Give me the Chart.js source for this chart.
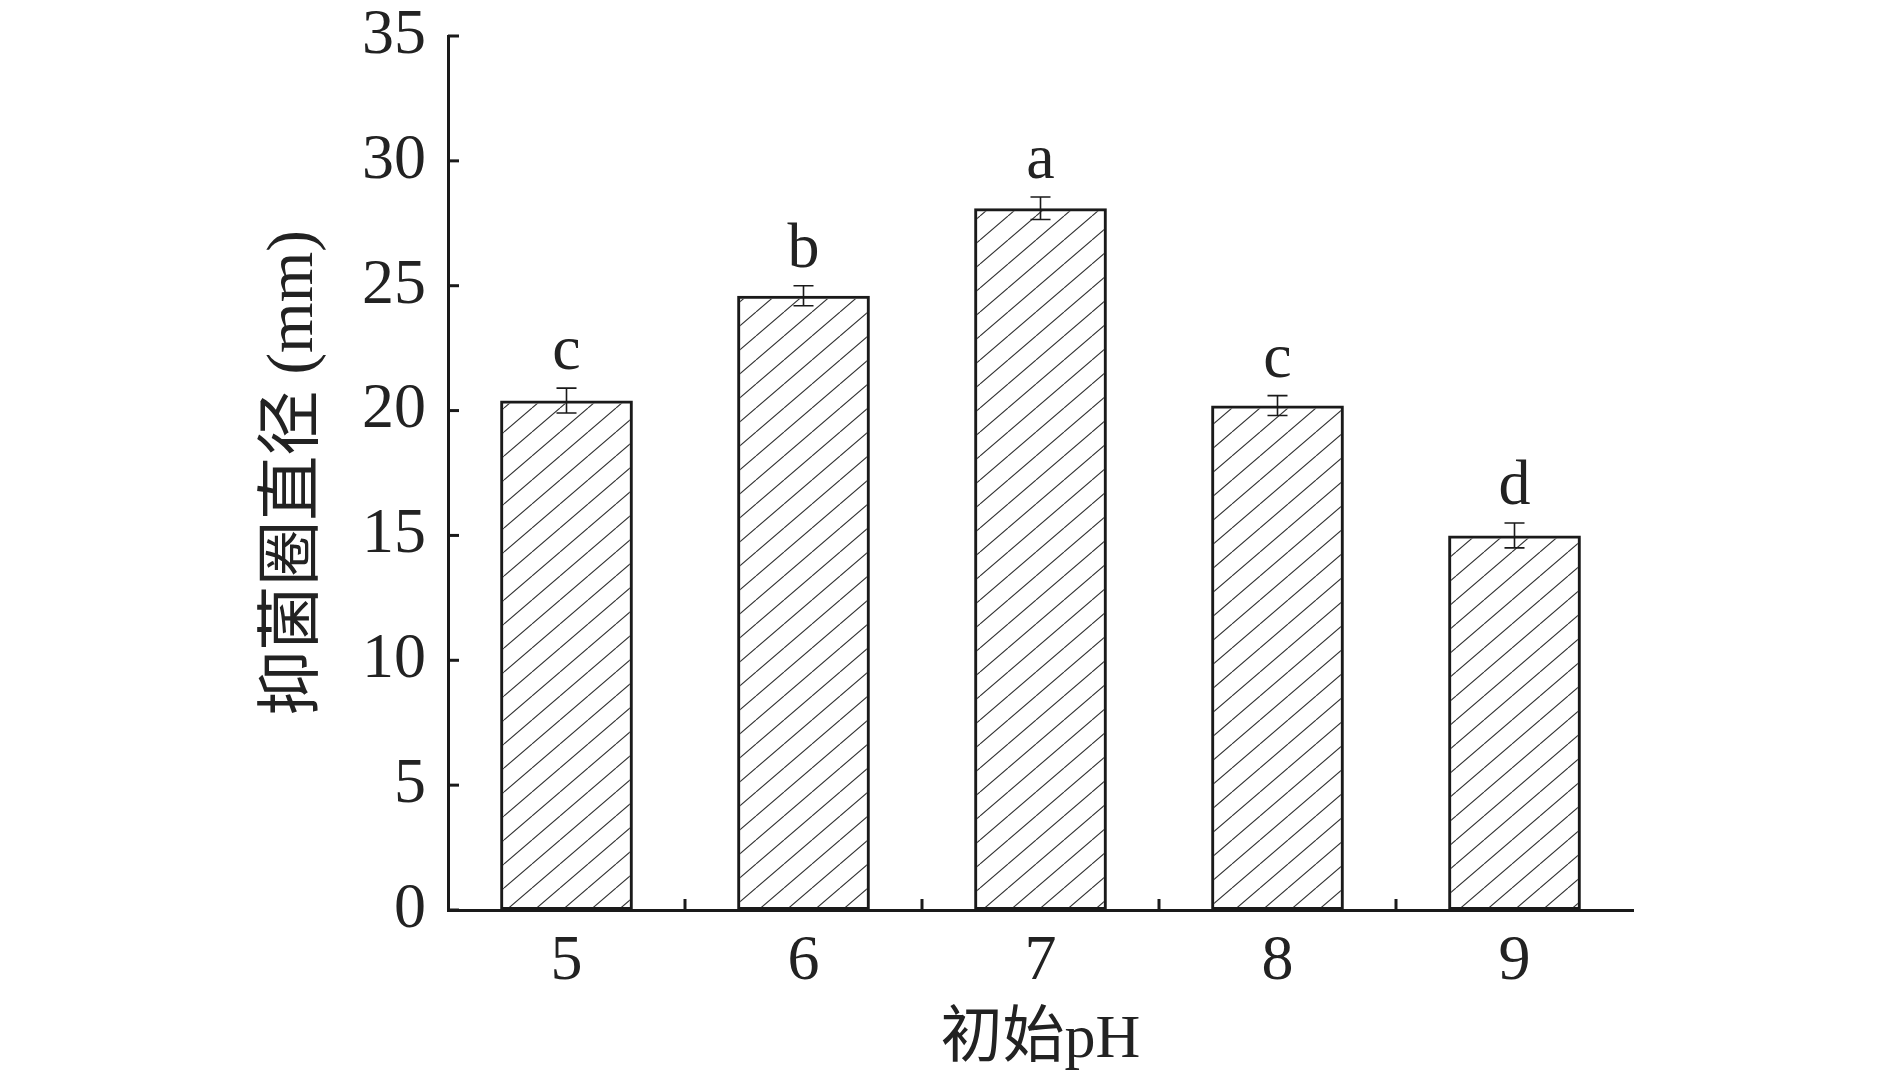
<!DOCTYPE html>
<html>
<head>
<meta charset="utf-8">
<script src="https://cdn.jsdelivr.net/npm/chart.js@4/dist/chart.umd.min.js"></script>
<style>
  html, body { margin: 0; padding: 0; background: #fff; }
  #wrap { width: 1890px; height: 1084px; }
</style>
</head>
<body>
<div id="wrap"><canvas id="phChart" width="1890" height="1084"></canvas></div>
<script>
// data
const phLabels = ["5", "6", "7", "8", "9"];
const zoneDiameter = [20.4, 24.6, 28.1, 20.2, 15.0];
const zoneError = [0.5, 0.4, 0.45, 0.4, 0.5];
const sigLetters = ["c", "b", "a", "c", "d"];
const yTicks = [0, 5, 10, 15, 20, 25, 30, 35];

const serif = "'Liberation Serif', 'Times New Roman', serif";
const cjk = "'Liberation Serif', 'Noto Sans CJK SC', serif";
const ink = "#1a1a1a";

// diagonal hatch fill ("/" lines)
const makeHatch = () => {
    const tile = document.createElement("canvas");
    tile.width = 28;
    tile.height = 24;
    const t = tile.getContext("2d");
    t.strokeStyle = "#333";
    t.lineWidth = 1.1;
    t.beginPath();
    for (let k = -1; k <= 1; k++) {
        t.moveTo(k * 28, 24);
        t.lineTo(k * 28 + 28, 0);
    }
    t.stroke();
    return t.createPattern(tile, "repeat");
};

// inward ticks, error bars and letters
const decorations = {
    id: "decorations",
    afterDatasetsDraw(chart) {
        const ctx = chart.ctx;
        const xs = chart.scales.x;
        const ys = chart.scales.y;
        const area = chart.chartArea;
        ctx.save();
        ctx.strokeStyle = ink;
        ctx.lineWidth = 3;
        // y ticks pointing right
        yTicks.forEach((v) => {
            const py = ys.getPixelForValue(v);
            ctx.beginPath();
            ctx.moveTo(area.left, py);
            ctx.lineTo(area.left + 11, py);
            ctx.stroke();
        });
        // x ticks between categories, pointing up
        for (let i = 0; i < phLabels.length - 1; i++) {
            const px = (xs.getPixelForValue(i) + xs.getPixelForValue(i + 1)) / 2;
            ctx.beginPath();
            ctx.moveTo(px, area.bottom);
            ctx.lineTo(px, area.bottom - 11);
            ctx.stroke();
        }
        // error bars
        ctx.lineWidth = 1.6;
        zoneDiameter.forEach((v, i) => {
            const px = xs.getPixelForValue(i);
            const hi = ys.getPixelForValue(v + zoneError[i]);
            const lo = ys.getPixelForValue(v - zoneError[i]);
            ctx.beginPath();
            ctx.moveTo(px, hi);
            ctx.lineTo(px, lo);
            ctx.moveTo(px - 10, hi);
            ctx.lineTo(px + 10, hi);
            ctx.moveTo(px - 10, lo);
            ctx.lineTo(px + 10, lo);
            ctx.stroke();
        });
        // significance letters
        ctx.fillStyle = "#222";
        ctx.font = "64px " + serif;
        ctx.textAlign = "center";
        ctx.textBaseline = "alphabetic";
        sigLetters.forEach((s, i) => {
            const px = xs.getPixelForValue(i);
            const top = ys.getPixelForValue(zoneDiameter[i] + zoneError[i]);
            ctx.fillText(s, px, top - 19);
        });
        ctx.restore();
    },
};

new Chart(document.getElementById("phChart"), {
    type: "bar",
    data: {
        labels: phLabels,
        datasets: [
            {
                data: zoneDiameter,
                backgroundColor: makeHatch(),
                borderColor: ink,
                borderWidth: 3,
                borderSkipped: false,
                barPercentage: 0.56,
                categoryPercentage: 1,
            },
        ],
    },
    options: {
        responsive: false,
        animation: false,
        devicePixelRatio: 1,
        layout: { padding: { top: 36, right: 257, left: 0, bottom: 0 } },
        plugins: { legend: { display: false }, tooltip: { enabled: false } },
        scales: {
            x: {
                offset: true,
                grid: { display: false, drawTicks: false },
                border: { display: true, color: ink, width: 3 },
                ticks: {
                    color: "#222",
                    padding: 14,
                    font: { family: serif, size: 64 },
                },
                title: {
                    display: true,
                    text: "初始pH",
                    color: "#222",
                    font: { family: cjk, size: 62 },
                    padding: { top: 0, bottom: 6 },
                },
                afterFit(scale) {
                    scale.height = 174;
                    scale.paddingLeft = 0;
                    scale.paddingRight = 0;
                },
            },
            y: {
                min: 0,
                max: 35,
                afterBuildTicks(scale) {
                    scale.ticks = yTicks.map((v) => ({ value: v }));
                },
                grid: { display: false, drawTicks: false },
                border: { display: true, color: ink, width: 3 },
                ticks: {
                    color: "#222",
                    padding: 22,
                    font: { family: serif, size: 64 },
                },
                title: {
                    display: true,
                    text: "抑菌圈直径 (mm)",
                    color: "#222",
                    font: { family: cjk, size: 65 },
                    padding: { top: 256, bottom: 0 },
                },
                afterFit(scale) {
                    scale.width = 448;
                    scale.paddingTop = 0;
                    scale.paddingBottom = 0;
                },
            },
        },
    },
    plugins: [decorations],
});
</script>
</body>
</html>
